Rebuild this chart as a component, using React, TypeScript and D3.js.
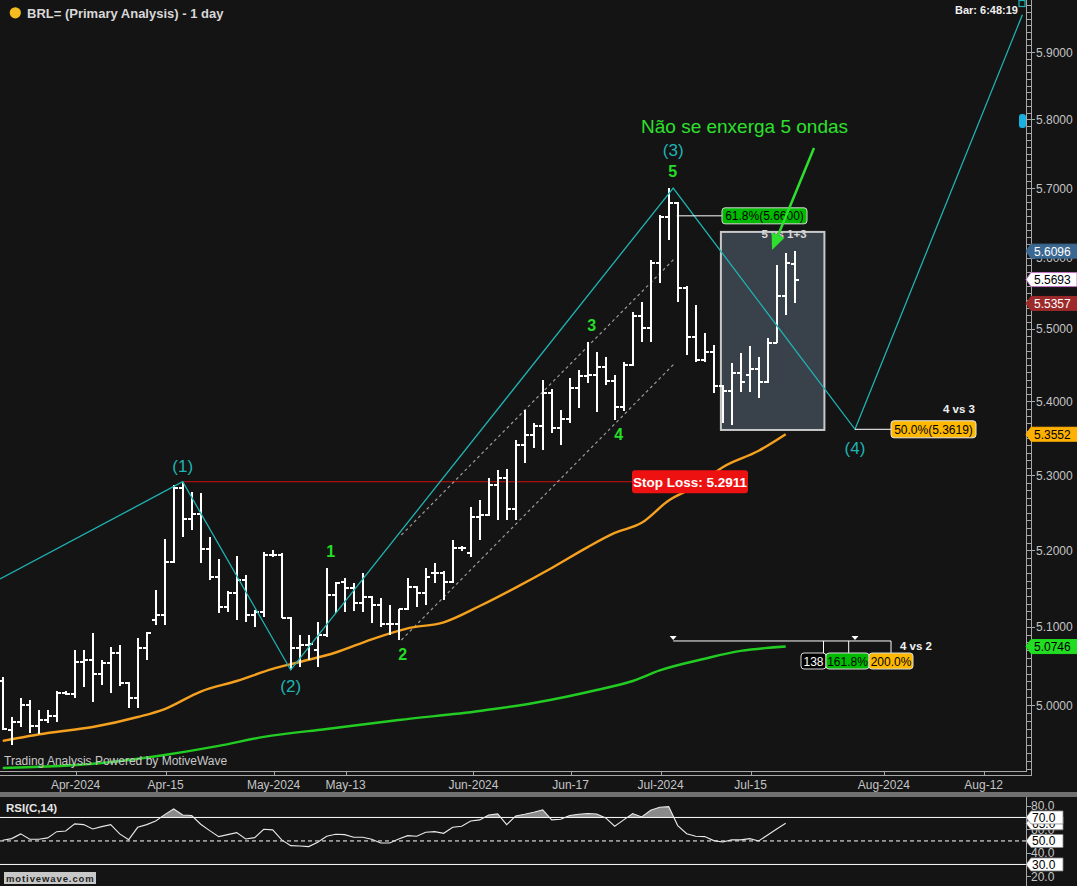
import React from "react";
import * as d3 from "d3";

// ---------- DATA ----------
const barOpen = [5.0305,4.9684,4.9785,5.0000,4.9735,4.9810,4.9861,5.0152,5.0140,5.0548,5.0574,5.0394,5.0535,5.0663,5.0280,5.0089,5.0728,5.1089,5.1154,5.1845,5.2827,5.2414,5.2480,5.2016,5.1649,5.1257,5.1440,5.1609,5.1154,5.1193,5.1937,5.1937,5.1115,5.0728,5.0766,5.0702,5.0895,5.1414,5.1583,5.1505,5.1309,5.1387,5.1283,5.1037,5.1037,5.1231,5.1518,5.1440,5.1701,5.1701,5.1583,5.2029,5.1964,5.2441,5.2467,5.2867,5.2960,5.2547,5.3406,5.3542,5.3664,5.4115,5.3637,5.3760,5.4184,5.4349,5.4362,5.4473,5.4280,5.3924,5.4500,5.5181,5.5017,5.5927,5.6583,5.6784,5.5574,5.4890,5.4570,5.4680,5.4211,5.4142,5.4390,5.4362,5.4445,5.4267,5.4805,5.5462,5.5913];
const barHigh = [5.0356,4.9848,5.0089,5.0063,4.9937,4.9937,5.0178,5.0178,5.0702,5.0702,5.0921,5.0574,5.0740,5.0766,5.0292,5.0856,5.0933,5.1479,5.2148,5.2867,5.2911,5.2774,5.2760,5.2175,5.1885,5.1466,5.1924,5.1675,5.1219,5.1977,5.2003,5.1964,5.1128,5.0895,5.0895,5.1063,5.1767,5.1583,5.1636,5.1570,5.1701,5.1400,5.1374,5.1283,5.1231,5.1636,5.1531,5.1767,5.1832,5.1727,5.2135,5.2056,5.2574,5.2667,5.2960,5.3069,5.3082,5.3474,5.3882,5.3705,5.4294,5.4170,5.3882,5.4322,5.4431,5.4819,5.4680,5.4612,5.4362,5.4542,5.5238,5.5378,5.5970,5.6612,5.7001,5.6799,5.5603,5.5335,5.4946,5.4777,5.4225,5.4528,5.4666,5.4764,5.4612,5.4876,5.5899,5.6069,5.6096];
const barLow = [4.9684,4.9496,4.9722,4.9646,4.9634,4.9772,4.9785,5.0127,5.0089,5.0229,5.0038,5.0254,5.0152,5.0241,4.9962,4.9962,5.0574,5.1024,5.1024,5.1832,5.2175,5.2268,5.1832,5.1609,5.1180,5.1193,5.1089,5.1063,5.0998,5.1128,5.1911,5.1115,5.0446,5.0484,5.0574,5.0484,5.0869,5.1180,5.1193,5.1205,5.1193,5.1050,5.0998,5.0895,5.0831,5.1219,5.1257,5.1283,5.1570,5.1348,5.1570,5.1990,5.1911,5.2135,5.2454,5.2401,5.2401,5.2401,5.3163,5.3366,5.3339,5.3569,5.3406,5.3705,5.3910,5.4253,5.3855,5.4225,5.3746,5.3869,5.4487,5.4819,5.4819,5.5645,5.6254,5.5378,5.4638,5.4542,5.4542,5.4115,5.3705,5.3678,5.4128,5.4128,5.4046,5.4253,5.4805,5.5195,5.5357];
const barClose = [4.9697,4.9785,5.0000,4.9735,4.9810,4.9861,5.0152,5.0140,5.0548,5.0574,5.0394,5.0535,5.0663,5.0280,5.0089,5.0728,5.0921,5.1154,5.1845,5.2827,5.2414,5.2480,5.2016,5.1649,5.1257,5.1440,5.1609,5.1154,5.1193,5.1937,5.1937,5.1115,5.0728,5.0766,5.0779,5.0895,5.1414,5.1570,5.1505,5.1309,5.1387,5.1283,5.1037,5.1037,5.1231,5.1518,5.1440,5.1649,5.1701,5.1583,5.2029,5.2029,5.2441,5.2467,5.2867,5.2960,5.2547,5.3406,5.3542,5.3664,5.4115,5.3637,5.3760,5.4184,5.4349,5.4362,5.4473,5.4280,5.3924,5.4500,5.5181,5.5017,5.5927,5.6583,5.6784,5.5574,5.4890,5.4570,5.4680,5.4211,5.4142,5.4390,5.4267,5.4445,5.4267,5.4805,5.5462,5.5927,5.5693];

const rsi14 = [50.6,52.0,56.0,51.4,51.4,52.6,57.9,58.5,64.5,63.9,60.2,62.2,63.9,56.0,51.1,61.6,63.9,67.0,72.4,77.2,72.1,71.6,64.2,58.8,53.7,55.4,57.1,51.7,52.8,59.9,59.4,50.9,46.0,45.7,45.2,48.9,54.0,55.7,55.4,53.1,53.1,51.4,48.3,48.3,51.7,54.5,54.0,57.4,57.9,56.5,61.6,62.5,67.0,67.9,72.1,73.0,63.9,71.3,72.7,74.4,76.4,67.9,68.4,71.6,72.7,73.3,73.0,69.6,62.5,67.9,73.3,70.4,76.1,78.7,79.2,63.1,56.2,54.0,53.7,50.3,49.1,50.9,50.9,52.0,50.0,55.1,60.2,65.0];

// moving averages: [bar index, value]
const maOrange: [number, number][] = [[0,4.9547],[5,4.9646],[10,4.9722],[15,4.9848],[18,4.9949],[22,5.0171],[26,5.0305],[30,5.0459],[33,5.0548],[37,5.0670],[41,5.0840],[45,5.0981],[49,5.1059],[53,5.1270],[57,5.1510],[61,5.1767],[65,5.2042],[68,5.2229],[71,5.2363],[74,5.2660],[77,5.2850],[80,5.3106],[84,5.3328],[87,5.3552]];
const maGreen: [number, number][] = [[0,4.9208],[11,4.9271],[18,4.9371],[24,4.9484],[29,4.9597],[36,4.9697],[44,4.9810],[53,4.9924],[59,5.0025],[66,5.0190],[70,5.0305],[73,5.0440],[78,5.0590],[82,5.0690],[87,5.0746]];

const waveIndex = [-0.3, 20, 32, 74.5, 94.7, 113.3];
const wavePrice = [5.1622, 5.2911, 5.0446, 5.7001, 5.3619, 5.956];
const waveNames = ["", "(1)", "(2)", "(3)", "(4)", ""];
const waveLabelOffset = [0, -15, 17, -37, 19, 0];

const subWaveNames = ["1", "2", "3", "4", "5"];
const subWaveBars = [36, 44, 65, 68, 74];
const subWaveSide = ["high", "low", "high", "low", "high"];

const channelUpper: [number, number][] = [[44.3, 5.2202], [74.7, 5.5997]];
const channelLower: [number, number][] = [[44.3, 5.0831], [74.7, 5.4528]];

const dateTickLabels = ["Apr-2024","Apr-15","May-2024","May-13","Jun-2024","Jun-17","Jul-2024","Jul-15","Aug-2024","Aug-12"];
const dateTickIndex = [8.1, 18.1, 30.1, 38.1, 52.3, 63.1, 73.1, 83.1, 97.9, 109.0];

const priceTicks = [5.0, 5.1, 5.2, 5.3, 5.4, 5.5, 5.6, 5.7, 5.8, 5.9];
const rsiPlainTicks = [80, 60, 40, 20];
const rsiTagTicks = [70, 50, 30];

const stopLoss = 5.2911;
const fib618 = 5.66;
const fib50 = 5.3619;
const boxIndex = [79.8, 91.3];
const boxPrice = [5.361, 5.637];
const timeExtIndex = [74.5, 98.7];
const timeExtPrice = 5.0818;
const timeExtMarks = [91.2, 94.0, 98.7];
const timeExtTriangles = [74.5, 94.7];

const F = "Liberation Sans, Arial, Helvetica, sans-serif";

export default function App() {
  const x = d3.scaleLinear().domain([0, 88]).range([2.7, 794.7]);
  const y = d3.scaleLog().domain([5.0, 5.9]).range([705, 52]);
  const yR = d3.scaleLinear().domain([20, 80]).range([876.2, 805.7]);
  const n = barClose.length;

  const maLine = d3.line<[number, number]>().x(d => x(d[0])).y(d => y(d[1])).curve(d3.curveMonotoneX);
  const segLine = d3.line<[number, number]>().x(d => x(d[0])).y(d => y(d[1]));
  const wavePts: [number, number][] = waveIndex.map((v, i) => [v, wavePrice[i]]);
  const rsiLine = d3.line<number>().x((_, i) => x(i)).y(v => yR(v));
  const rsiArea = d3.area<number>().x((_, i) => x(i)).y0(yR(70)).y1(v => yR(v));

  const minorTicks = d3.range(492, 598).map(v => v / 100);

  const cyan = "#1fb3b3";
  const lime = "#25dd25";
  const axisCol = "#c4c4c4";
  const frameCol = "#a8a8a8";

  const tag = (yy: number, x0: number, w: number, h: number) =>
    `M${x0},${yy} L${x0 + 5},${yy - h / 2} L${x0 + w},${yy - h / 2} L${x0 + w},${yy + h / 2} L${x0 + 5},${yy + h / 2} Z`;

  const priceTags = [
    { v: barHigh[n - 1], fill: "#3b6892", text: "#ffffff", stroke: "#3b6892" },
    { v: barClose[n - 1], fill: "#ffffff", text: "#000000", stroke: "#c070c0" },
    { v: barLow[n - 1], fill: "#9c2a2a", text: "#ffffff", stroke: "#9c2a2a" },
    { v: maOrange[maOrange.length - 1][1], fill: "#ffb000", text: "#000000", stroke: "#ffb000" },
    { v: maGreen[maGreen.length - 1][1], fill: "#22dd22", text: "#000000", stroke: "#22dd22" },
  ];

  // arrow
  const a0 = [814, 148], a1 = [772, 250];
  const adx = a1[0] - a0[0], ady = a1[1] - a0[1];
  const alen = Math.hypot(adx, ady);
  const ux = adx / alen, uy = ady / alen;
  const bcx = a1[0] - 16 * ux, bcy = a1[1] - 16 * uy;
  const arrowHead = `M${a1[0]},${a1[1]} L${bcx + 7 * -uy},${bcy + 7 * ux} L${bcx - 7 * -uy},${bcy - 7 * ux} Z`;

  const slY = y(stopLoss);
  const f618Y = y(fib618);
  const f50Y = y(fib50);
  const teY = y(timeExtPrice);

  return (
    <svg width={1077} height={886} style={{ position: "absolute", left: 0, top: 0, display: "block" }} fontFamily={F}>
      <defs>
        <clipPath id="mainClip"><rect x={0} y={0} width={1026} height={771} /></clipPath>
        <clipPath id="rsiAbove"><rect x={0} y={797} width={1026} height={yR(70) - 797} /></clipPath>
        <clipPath id="rsiClip"><rect x={0} y={797} width={1026} height={89} /></clipPath>
      </defs>
      <rect x={0} y={0} width={1077} height={886} fill="#141414" />

      <g clipPath="url(#mainClip)">
        {/* projection box */}
        <rect x={x(boxIndex[0])} y={y(boxPrice[1])} width={x(boxIndex[1]) - x(boxIndex[0])} height={y(boxPrice[0]) - y(boxPrice[1])}
          fill="#39414a" stroke="#c9c9c9" strokeWidth={2} />
        {/* stop loss line */}
        <line x1={x(20)} x2={632} y1={slY} y2={slY} stroke="#d01010" strokeWidth={1} />
        {/* channel lines */}
        <path d={segLine(channelUpper) || ""} stroke="#9a9a9a" strokeWidth={1.2} strokeDasharray="3,3" fill="none" />
        <path d={segLine(channelLower) || ""} stroke="#9a9a9a" strokeWidth={1.2} strokeDasharray="3,3" fill="none" />
        {/* moving averages */}
        <path d={maLine(maGreen) || ""} stroke="#22cc22" strokeWidth={2.4} fill="none" />
        <path d={maLine(maOrange) || ""} stroke="#f5a01e" strokeWidth={2.4} fill="none" />
        {/* OHLC bars */}
        <g stroke="#ffffff" strokeWidth={2} shapeRendering="crispEdges">
          {d3.range(n).map(i => {
            const cx = Math.round(x(i));
            return (
              <g key={i}>
                <line x1={cx} x2={cx} y1={y(barHigh[i])} y2={y(barLow[i])} />
                <line x1={cx - 4} x2={cx} y1={Math.round(y(barOpen[i]))} y2={Math.round(y(barOpen[i]))} />
                <line x1={cx} x2={cx + 4} y1={Math.round(y(barClose[i]))} y2={Math.round(y(barClose[i]))} />
              </g>
            );
          })}
        </g>
        {/* wave zigzag */}
        <path d={segLine(wavePts) || ""} stroke={cyan} strokeWidth={1.3} fill="none" />
        {/* fib connector lines */}
        <line x1={x(74.9)} x2={722} y1={f618Y} y2={f618Y} stroke="#ffffff" strokeWidth={1} />
        <line x1={x(waveIndex[4])} x2={891} y1={f50Y} y2={f50Y} stroke="#ffffff" strokeWidth={1} />
        {/* time extension */}
        <line x1={x(timeExtIndex[0])} x2={x(timeExtIndex[1])} y1={teY} y2={teY} stroke="#ffffff" strokeWidth={1} />
        {timeExtMarks.map((m, i) => (
          <line key={i} x1={x(m)} x2={x(m)} y1={teY} y2={teY + 12} stroke="#ffffff" strokeWidth={1} />
        ))}
        {timeExtTriangles.map((m, i) => (
          <path key={i} d={`M${x(m) - 3.5},${teY - 5} L${x(m) + 3.5},${teY - 5} L${x(m)},${teY - 1} Z`} fill="#ffffff" />
        ))}
      </g>

      {/* wave labels */}
      {waveNames.map((nm, i) => nm ? (
        <text key={i} x={x(waveIndex[i])} y={y(wavePrice[i]) + waveLabelOffset[i]} fill={cyan} fontSize={17}
          textAnchor="middle" dominantBaseline="central">{nm}</text>
      ) : null)}
      {subWaveNames.map((nm, i) => {
        const b = subWaveBars[i];
        const yy = subWaveSide[i] === "high" ? y(barHigh[b]) - 16 : y(barLow[b]) + 15;
        return <text key={i} x={x(b) + 4} y={yy} fill={lime} fontSize={16} fontWeight="bold" textAnchor="middle" dominantBaseline="central">{nm}</text>;
      })}

      {/* stop loss label */}
      <rect x={632} y={slY - 11.5} width={116} height={23} rx={3} fill="#ee1111" />
      <text x={690} y={slY + 5} fill="#ffffff" fontSize={13.5} fontWeight="bold" textAnchor="middle">Stop Loss: {stopLoss.toFixed(4)}</text>

      {/* fib labels */}
      <rect x={722} y={f618Y - 8} width={85} height={16} rx={3} fill="#00bb00" stroke="#d8d8d8" strokeWidth={1} />
      <text x={764.5} y={f618Y + 4.3} fill="#000000" fontSize={12} textAnchor="middle">61.8%({fib618.toFixed(4)})</text>
      <rect x={891} y={f50Y - 8.5} width={85} height={17} rx={3} fill="#ffb800" stroke="#e8e8e8" strokeWidth={1} />
      <text x={933.5} y={f50Y + 4.5} fill="#000000" fontSize={12} textAnchor="middle">50.0%({fib50.toFixed(4)})</text>
      <text x={943} y={413} fill="#f0f0f0" fontSize={11.5} fontWeight="bold">4 vs 3</text>
      <text x={784} y={238} fill="#d8d8d8" fontSize={11.5} fontWeight="bold" textAnchor="middle">5 vs 1+3</text>

      {/* time extension labels */}
      <rect x={801} y={653} width={25} height={16} rx={3} fill="#000000" stroke="#d8d8d8" strokeWidth={1} />
      <text x={813.5} y={665.5} fill="#ffffff" fontSize={12} textAnchor="middle">138</text>
      <rect x={826} y={653} width={43} height={16} rx={3} fill="#00bb00" stroke="#d8d8d8" strokeWidth={1} />
      <text x={847.5} y={665.5} fill="#000000" fontSize={12} textAnchor="middle">161.8%</text>
      <rect x={869} y={653} width={44} height={16} rx={3} fill="#ffb800" stroke="#d8d8d8" strokeWidth={1} />
      <text x={891} y={665.5} fill="#000000" fontSize={12} textAnchor="middle">200.0%</text>
      <text x={900} y={650} fill="#f0f0f0" fontSize={11.5} fontWeight="bold">4 vs 2</text>

      {/* annotation text + arrow */}
      <text x={641} y={133} fill="#2de02d" fontSize={19}>Não se enxerga 5 ondas</text>
      <line x1={a0[0]} y1={a0[1]} x2={bcx} y2={bcy} stroke="#2de02d" strokeWidth={2.5} />
      <path d={arrowHead} fill="#2de02d" />

      {/* title + watermark */}
      <circle cx={15.3} cy={12.8} r={5.6} fill="#f5bd1f" />
      <text x={27} y={17.5} fill="#d8d8d8" fontSize={13} fontWeight="bold">BRL= (Primary Analysis) - 1 day</text>
      <text x={1018} y={14} fill="#f0f0f0" fontSize={11} fontWeight="bold" textAnchor="end">Bar: 6:48:19</text>
      <text x={4} y={765} fill="#c8c8c8" fontSize={12}>Trading Analysis Powered by MotiveWave</text>

      {/* frames */}
      <g stroke={frameCol} strokeWidth={1} shapeRendering="crispEdges" fill="none">
        <line x1={0} x2={1026} y1={771.5} y2={771.5} />
        <line x1={1026.5} x2={1026.5} y1={0} y2={771.5} />
        <line x1={0} x2={1031} y1={775.5} y2={775.5} />
        <line x1={1031.5} x2={1031.5} y1={0} y2={775.5} />
        {dateTickIndex.map((d, i) => (
          <line key={i} x1={Math.round(x(d)) + 0.5} x2={Math.round(x(d)) + 0.5} y1={771} y2={776} />
        ))}
        {minorTicks.map((v, i) => (
          <line key={i} x1={1026} x2={1031} y1={Math.round(y(v)) + 0.5} y2={Math.round(y(v)) + 0.5} />
        ))}
        {priceTicks.map((v, i) => (
          <line key={i} x1={1026} x2={1035} y1={Math.round(y(v)) + 0.5} y2={Math.round(y(v)) + 0.5} />
        ))}
      </g>
      {dateTickLabels.map((lb, i) => (
        <text key={i} x={x(dateTickIndex[i])} y={789} fill={axisCol} fontSize={12} textAnchor="middle">{lb}</text>
      ))}
      {priceTicks.map((v, i) => (
        <text key={i} x={1036} y={y(v) + 4.5} fill={axisCol} fontSize={12}>{v.toFixed(4)}</text>
      ))}

      {/* small clipped markers at right edge */}
      <rect x={1019} y={0.5} width={6} height={6} fill="none" stroke={cyan} strokeWidth={1.2} />
      <rect x={1019} y={114} width={7} height={14} rx={3} fill="#1ab0e0" />

      {/* price tags */}
      {priceTags.map((t, i) => (
        <g key={i}>
          <path d={tag(y(t.v), 1026, 51, 14)} fill={t.fill} stroke={t.stroke} strokeWidth={1} />
          <text x={1034} y={y(t.v) + 4.5} fill={t.text} fontSize={12}>{t.v.toFixed(4)}</text>
        </g>
      ))}

      {/* RSI panel */}
      <rect x={0} y={792} width={1077} height={5} fill="#707070" />
      <g clipPath="url(#rsiClip)">
        <path d={rsiArea(rsi14) || ""} fill="#8a8a8a" clipPath="url(#rsiAbove)" />
        <line x1={0} x2={1026} y1={yR(70)} y2={yR(70)} stroke="#ffffff" strokeWidth={1} />
        <line x1={0} x2={1026} y1={yR(30)} y2={yR(30)} stroke="#ffffff" strokeWidth={1} />
        <line x1={0} x2={1026} y1={yR(50)} y2={yR(50)} stroke="#ffffff" strokeWidth={1} strokeDasharray="4,3" />
        <path d={rsiLine(rsi14) || ""} stroke="#e8e8e8" strokeWidth={1.1} fill="none" />
      </g>
      <text x={6} y={812} fill="#e6e6e6" fontSize={11.5} fontWeight="bold">RSI(C,14)</text>
      <line x1={1026.5} x2={1026.5} y1={797} y2={886} stroke={frameCol} strokeWidth={1} shapeRendering="crispEdges" />
      {[80, 70, 60, 50, 40, 30, 20].map(v => (
        <line key={v} x1={1026} x2={1031} y1={Math.round(yR(v)) + 0.5} y2={Math.round(yR(v)) + 0.5} stroke={frameCol} shapeRendering="crispEdges" />
      ))}
      {rsiPlainTicks.map(v => (
        <text key={v} x={1031} y={yR(v) + 4.5} fill={axisCol} fontSize={12}>{v.toFixed(1)}</text>
      ))}
      <path d={tag(yR(rsi14[rsi14.length - 1]), 1026, 37, 13)} fill="#ffffff" stroke="#888" strokeWidth={0.8} />
      <text x={1032} y={yR(rsi14[rsi14.length - 1]) + 4.5} fill="#000" fontSize={12}>{rsi14[rsi14.length - 1].toFixed(1)}</text>
      {rsiTagTicks.map(v => (
        <g key={v}>
          <path d={tag(yR(v), 1026, 37, 13)} fill="#ffffff" stroke="#888" strokeWidth={0.8} />
          <text x={1032} y={yR(v) + 4.5} fill="#000" fontSize={12}>{v.toFixed(1)}</text>
        </g>
      ))}

      {/* watermark */}
      <rect x={4} y={872} width={92} height={12} fill="#c8c8c8" />
      <text x={6} y={882} fill="#222" fontSize={9.5} fontWeight="bold" letterSpacing={0.9}>motivewave.com</text>
    </svg>
  );
}
